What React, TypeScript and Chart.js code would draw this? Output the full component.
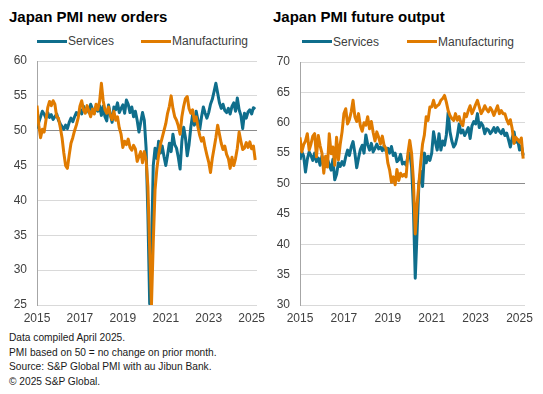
import React, { useEffect, useRef } from "react";
import { Chart, registerables } from "chart.js";

Chart.register(...registerables);

// ---- Data (monthly, Jan 2015 – Mar 2025) ----
const START_YEAR = 2015;
const YEAR_TICKS = [2015, 2017, 2019, 2021, 2023, 2025];

// Japan PMI new orders – Services
const newOrdersServices = [
  50.3, 51.2, 52.0, 52.8, 52.4, 51.8, 52.6, 51.9, 52.3, 51.6, 52.0, 52.4,
  51.5, 51.0, 50.6, 50.2, 50.8, 50.3, 51.2, 51.8, 51.3, 52.0, 52.6, 52.2,
  53.0, 52.4, 53.5, 52.8, 53.3, 52.6, 53.8, 53.1, 52.5, 53.4, 52.8, 53.6,
  52.2, 53.5, 52.0, 51.4, 53.7, 52.3, 51.2, 53.4, 53.0, 54.0, 52.6, 53.2,
  53.7, 52.5, 54.4, 53.8, 52.6, 53.4, 52.0, 52.8, 51.5, 49.8, 51.2, 52.6,
  51.5, 47.5, 38.0, 25.2, 33.0, 45.0, 47.5, 46.0, 48.5, 46.8, 47.8, 46.3,
  45.0, 46.5, 48.2, 47.0, 49.5, 48.0, 47.5, 46.2, 44.5, 48.5, 50.5, 49.0,
  46.4, 48.0, 50.5, 52.3, 50.8, 52.8, 51.5, 50.2, 52.0, 53.4, 52.5, 51.8,
  52.6, 53.8, 54.5, 55.6, 56.8, 55.4, 54.0, 53.2, 53.8, 52.9, 52.6, 53.2,
  52.4, 53.5, 54.0, 52.8, 54.7, 53.0, 52.2, 50.3, 52.5, 51.8, 52.7, 53.0,
  52.4, 53.3, 53.1,
];

// Japan PMI new orders – Manufacturing
const newOrdersManufacturing = [
  53.6, 50.8, 49.0, 50.2, 49.8, 51.5, 53.3, 54.2, 53.6, 54.3, 53.8, 52.0,
  51.8, 50.5, 49.0, 46.8, 45.0, 44.6, 46.5, 48.2, 49.0, 50.0, 50.8, 51.8,
  53.5, 54.3, 53.0, 52.5, 53.6, 52.8, 52.0, 53.1, 52.4, 53.8, 53.0, 54.2,
  56.8, 54.3, 53.0, 52.5, 53.4, 52.2, 51.6, 52.8, 51.5, 52.0, 50.4, 49.5,
  47.6, 48.5, 48.0, 48.8, 47.6, 47.2, 47.9, 47.4, 45.6, 46.3, 47.0, 45.4,
  47.0, 45.8, 42.0, 33.0, 25.0, 34.0, 41.5, 44.5, 46.5, 48.0, 49.0, 50.0,
  51.0, 52.5, 53.5, 55.0, 53.2, 52.0, 51.5, 50.7, 49.5, 52.0, 53.5, 54.6,
  54.9, 53.2, 52.5, 53.0, 51.4, 52.0, 50.5, 49.3, 48.5, 49.0, 47.6, 46.5,
  45.5, 44.0, 46.0, 47.5, 49.0, 50.8, 49.5, 48.2, 47.3, 47.8, 46.6, 46.0,
  44.6, 46.2, 45.0, 46.0, 47.5, 49.8, 48.5, 47.3, 47.5, 48.3, 47.6, 48.4,
  47.4, 47.8, 45.8,
];

// Japan PMI future output – Services
const futureOutputServices = [
  53.9, 55.2, 54.5, 51.9, 54.0, 55.2, 54.6, 53.8, 55.0, 53.6, 54.2, 53.0,
  54.5, 53.2, 52.8, 54.0, 53.1, 52.2, 54.0, 50.6, 51.5, 53.4, 52.8, 53.6,
  53.0, 54.4, 55.5, 54.6, 56.0, 56.9, 55.0, 52.6, 54.2, 55.6, 56.3, 55.0,
  58.0, 56.4, 55.5, 56.6, 55.2, 55.8, 56.5, 55.7, 56.0, 55.4, 56.2, 55.3,
  55.8, 55.0, 56.1, 54.6, 55.0, 53.6, 53.9, 54.8, 53.2, 53.5, 53.0, 54.5,
  55.0, 52.8, 46.0, 34.4, 42.0, 50.0, 52.0, 49.5, 55.0, 53.4, 54.5, 53.8,
  55.0, 58.5, 56.8, 55.5, 58.2, 55.5, 57.0, 56.3, 58.0, 61.7, 58.5, 57.0,
  56.0, 56.5, 57.8, 59.8, 58.3, 58.8, 57.9, 58.5, 59.2, 57.4, 59.5, 60.2,
  59.8, 61.5, 59.2, 60.0, 59.5, 58.2, 59.0, 58.8, 58.2, 58.6, 59.2, 58.4,
  59.2, 58.6, 58.2, 58.9, 57.9, 58.3, 57.2, 56.0, 57.5, 58.5, 56.8, 57.2,
  55.5, 56.2, 54.6,
];

// Japan PMI future output – Manufacturing
const futureOutputManufacturing = [
  57.6, 55.2, 56.4, 57.0, 58.2, 55.5, 56.5, 57.8, 58.2, 54.4, 57.9, 56.2,
  55.0, 51.7, 54.5, 52.7, 58.2, 54.9, 56.0, 53.0, 57.6, 53.9, 56.5, 58.5,
  61.5, 62.3, 59.8, 60.5, 61.8, 63.7, 61.0, 60.2, 61.5, 59.5, 58.6, 60.0,
  59.6, 61.0, 59.0, 60.2, 58.4, 57.0, 58.5, 57.6, 56.5, 57.8, 56.2, 55.8,
  53.4, 52.2, 50.2, 51.1, 49.8, 52.3, 50.5, 51.7, 51.2, 51.5, 51.1, 55.0,
  57.1, 55.0, 50.5, 41.7, 46.5, 50.0, 53.5, 56.5, 58.0, 61.0, 60.4, 62.6,
  62.6, 63.7, 62.5, 62.8, 63.0, 63.7, 64.0, 64.5, 63.4, 62.0, 61.2, 60.7,
  60.4, 61.5, 60.4, 61.0, 60.0, 59.5, 61.5, 61.0, 62.0, 62.8, 61.5, 62.2,
  63.0, 63.7, 62.6, 61.5, 62.0, 62.8, 62.2, 61.8, 62.5, 62.0, 61.2, 62.0,
  62.8, 61.5, 62.0, 61.5, 61.5, 60.5, 59.8, 60.5, 59.0, 56.6, 57.6, 57.2,
  56.8, 57.5, 54.1,
];

const SERIES_LABELS = ["Services", "Manufacturing"];
const TITLES = ["Japan PMI new orders", "Japan PMI future output"];
const FOOTNOTES = [
  "Data compiled April 2025.",
  "PMI based on 50 = no change on prior month.",
  "Source: S&P Global PMI with au Jibun Bank.",
  "\u00A9 2025 S&P Global.",
];

const TEAL = "#0f6e8c";
const ORANGE = "#e07b00";
const FONT = "'Liberation Sans', Arial, sans-serif";

function toPoints(values: number[]) {
  return values.map((v, i) => ({ x: START_YEAR + i / 12, y: v }));
}

function makeConfig(services: number[], manufacturing: number[], yMin: number, yMax: number, padTop: number): any {
  return {
    type: "line",
    data: {
      datasets: [
        {
          label: SERIES_LABELS[1],
          data: toPoints(manufacturing),
          borderColor: ORANGE,
          backgroundColor: ORANGE,
          borderWidth: 3,
          pointRadius: 0,
          tension: 0,
          borderJoinStyle: "round",
          order: 0,
        },
        {
          label: SERIES_LABELS[0],
          data: toPoints(services),
          borderColor: TEAL,
          backgroundColor: TEAL,
          borderWidth: 3,
          pointRadius: 0,
          tension: 0,
          borderJoinStyle: "round",
          order: 1,
        },
      ],
    },
    options: {
      responsive: false,
      animation: false,
      events: [],
      layout: { padding: { top: padTop, right: 13, bottom: 0, left: 0 } },
      plugins: {
        legend: { display: false },
        title: { display: false },
        tooltip: { enabled: false },
      },
      scales: {
        x: {
          type: "linear",
          min: START_YEAR,
          max: 2025.25,
          grid: { display: false, drawTicks: false },
          border: { display: false },
          ticks: {
            padding: 6,
            autoSkip: false,
            maxRotation: 0,
            color: "#404040",
            font: { family: FONT, size: 12 },
            callback: (v: any) => String(v),
          },
          afterBuildTicks: (ax: any) => {
            ax.ticks = YEAR_TICKS.map((v) => ({ value: v }));
          },
          afterFit: (s: any) => {
            s.height = 25;
            s.paddingLeft = 0;
            s.paddingRight = 0;
          },
        },
        y: {
          min: yMin,
          max: yMax,
          ticks: {
            stepSize: 5,
            padding: 10,
            color: "#404040",
            font: { family: FONT, size: 12 },
          },
          grid: {
            drawTicks: false,
            lineWidth: 1,
            color: (ctx: any) => (ctx.tick && ctx.tick.value === 50 ? "#8c8c8c" : "#d9d9d9"),
          },
          border: { display: true, color: "#a6a6a6", width: 1 },
          afterFit: (s: any) => {
            s.width = 37;
            s.paddingTop = 0;
            s.paddingBottom = 0;
          },
        },
      },
    },
  };
}

function PanelChart(props: {
  services: number[];
  manufacturing: number[];
  yMin: number;
  yMax: number;
  left: number;
  width: number;
  padTop: number;
}) {
  const ref = useRef<HTMLCanvasElement | null>(null);
  useEffect(() => {
    if (!ref.current) return;
    const chart = new Chart(
      ref.current,
      makeConfig(props.services, props.manufacturing, props.yMin, props.yMax, props.padTop)
    );
    return () => chart.destroy();
  }, []);
  return (
    <canvas
      ref={ref}
      width={props.width}
      height={280}
      style={{ position: "absolute", left: props.left, top: 50, width: props.width, height: 280 }}
    />
  );
}

function Legend(props: { items: { x: number; textX: number; color: string; label: string }[]; lineTop: number; textTop: number }) {
  return (
    <>
      {props.items.map((it) => (
        <React.Fragment key={it.label}>
          <div
            style={{
              position: "absolute",
              left: it.x,
              top: props.lineTop,
              width: 30,
              height: 3,
              background: it.color,
            }}
          />
          <div
            style={{
              position: "absolute",
              left: it.textX,
              top: props.textTop,
              fontFamily: FONT,
              fontSize: 12,
              lineHeight: "12px",
              color: "#404040",
              whiteSpace: "nowrap",
            }}
          >
            {it.label}
          </div>
        </React.Fragment>
      ))}
    </>
  );
}

export default function App() {
  const titleStyle: React.CSSProperties = {
    position: "absolute",
    top: 9,
    fontFamily: FONT,
    fontWeight: "bold",
    fontSize: 15,
    lineHeight: "15px",
    color: "#000",
    whiteSpace: "nowrap",
  };
  return (
    <div
      style={{
        position: "fixed",
        left: 0,
        top: 0,
        width: 543,
        height: 394,
        background: "#fff",
        overflow: "hidden",
      }}
    >
      <div style={{ ...titleStyle, left: 9 }}>{TITLES[0]}</div>
      <div style={{ ...titleStyle, left: 273 }}>{TITLES[1]}</div>

      <Legend
        lineTop={40}
        textTop={35}
        items={[
          { x: 37, textX: 68, color: TEAL, label: SERIES_LABELS[0] },
          { x: 141, textX: 172, color: ORANGE, label: SERIES_LABELS[1] },
        ]}
      />
      <Legend
        lineTop={40}
        textTop={36}
        items={[
          { x: 302, textX: 333, color: TEAL, label: SERIES_LABELS[0] },
          { x: 407, textX: 438, color: ORANGE, label: SERIES_LABELS[1] },
        ]}
      />

      <PanelChart
        services={newOrdersServices}
        manufacturing={newOrdersManufacturing}
        yMin={25}
        yMax={60}
        left={0}
        width={270}
        padTop={11}
      />
      <PanelChart
        services={futureOutputServices}
        manufacturing={futureOutputManufacturing}
        yMin={30}
        yMax={70}
        left={263}
        width={275}
        padTop={12}
      />

      <div
        style={{
          position: "absolute",
          left: 9,
          top: 331,
          fontFamily: FONT,
          fontSize: 10.2,
          lineHeight: "14.5px",
          color: "#1a1a1a",
          whiteSpace: "nowrap",
        }}
      >
        {FOOTNOTES.map((t) => (
          <div key={t}>{t}</div>
        ))}
      </div>
    </div>
  );
}
